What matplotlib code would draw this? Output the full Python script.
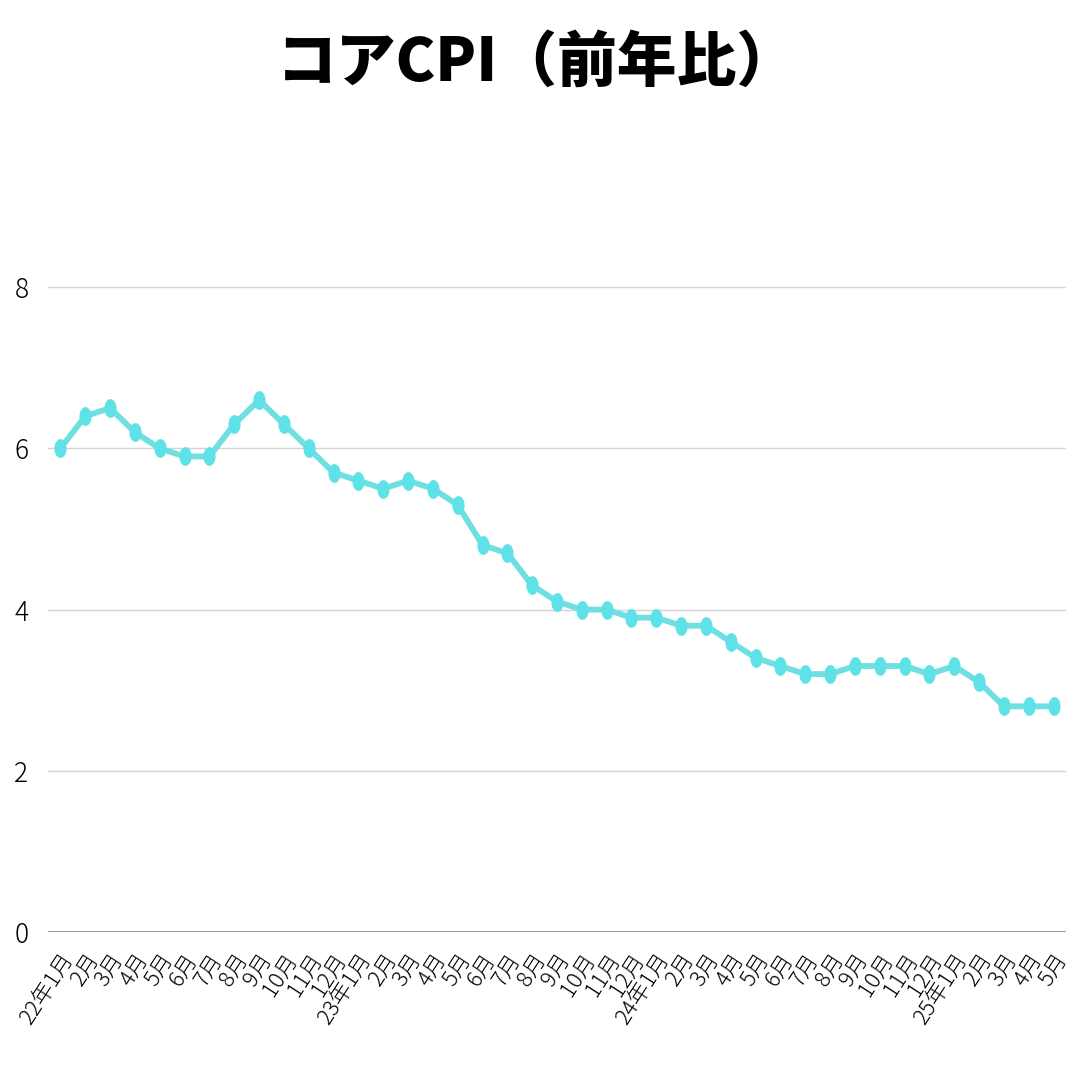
import numpy as np
import matplotlib
matplotlib.use("Agg")
import matplotlib.pyplot as plt
from matplotlib.path import Path
from matplotlib.transforms import ScaledTranslation

plt.rcParams['font.family'] = ['Noto Sans CJK JP', 'DejaVu Sans']

# ---- data ----
labels = ["22年1月", "2月", "3月", "4月", "5月", "6月", "7月", "8月", "9月", "10月", "11月", "12月",
          "23年1月", "2月", "3月", "4月", "5月", "6月", "7月", "8月", "9月", "10月", "11月", "12月",
          "24年1月", "2月", "3月", "4月", "5月", "6月", "7月", "8月", "9月", "10月", "11月", "12月",
          "25年1月", "2月", "3月", "4月", "5月"]
core_cpi = [6.0, 6.4, 6.5, 6.2, 6.0, 5.9, 5.9, 6.3, 6.6, 6.3, 6.0, 5.7,
            5.6, 5.5, 5.6, 5.5, 5.3, 4.8, 4.7, 4.3, 4.1, 4.0, 4.0, 3.9,
            3.9, 3.8, 3.8, 3.6, 3.4, 3.3, 3.2, 3.2, 3.3, 3.3, 3.3, 3.2,
            3.3, 3.1, 2.8, 2.8, 2.8]
yticks = [0, 2, 4, 6, 8]
title = "コアCPI（前年比）"

fig = plt.figure(figsize=(10.8, 10.8), dpi=100)
ax = fig.add_axes([48/1080, 1-932/1080, (1066-48)/1080, (932-126)/1080])

x = np.arange(len(core_cpi))

# ellipse marker (taller than wide)
t = np.linspace(0, 2*np.pi, 60)
ell = Path(np.column_stack([0.62*np.cos(t), np.sin(t)]), closed=True)

ax.plot(x, core_cpi, color='#6fdfe2', lw=4.2, zorder=3, solid_joinstyle='round')
ax.plot(x, core_cpi, linestyle='none', marker=ell, markersize=12.5,
        markerfacecolor='#5fe2e7', markeredgecolor='#5fe2e7', zorder=4)

ax.set_xlim(-0.5, len(core_cpi) - 0.5)
ax.set_ylim(0, 10)
ax.set_yticks(yticks)
ax.set_yticklabels([str(v) for v in yticks], fontsize=19, fontweight='light')
ax.grid(axis='y', color='#d4d4d4', lw=1.0)
ax.set_axisbelow(True)
ax.axhline(0, color='#8a8a8a', lw=1.2, zorder=2)

ax.set_xticks(x)
ax.set_xticklabels(labels, fontsize=16, rotation=57, ha='right', va='center',
                   rotation_mode='anchor', fontweight='light')
ax.tick_params(axis='x', length=0, pad=17)
ax.tick_params(axis='y', length=0, pad=14)
off = ScaledTranslation(9/100, 0, fig.dpi_scale_trans)
for lab in ax.get_xticklabels():
    lab.set_transform(lab.get_transform() + off)
for s in ax.spines.values():
    s.set_visible(False)

fig.text(0.497, 0.942, title, fontsize=43, fontweight='heavy', ha='center', va='center')

fig.savefig("out.png", dpi=100, facecolor='white')
